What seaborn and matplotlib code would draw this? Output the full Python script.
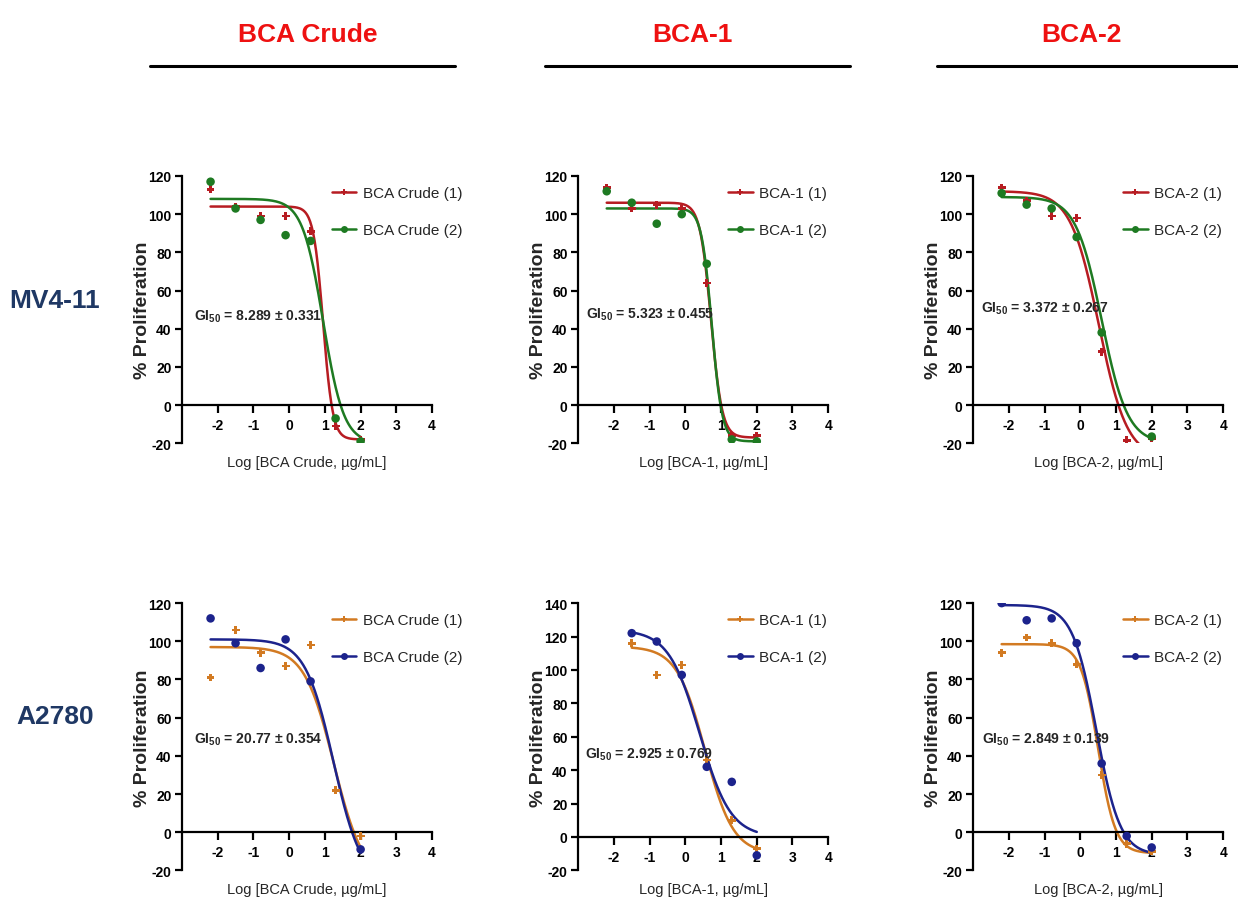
import numpy as np
import pandas as pd
import matplotlib
matplotlib.use("Agg")
import matplotlib.pyplot as plt
from matplotlib.lines import Line2D
import seaborn as sns

# --- data -------------------------------------------------------------------
log_conc = [-2.2, -1.5, -0.8, -0.1, 0.6, 1.3, 2.0]

compounds = ["BCA Crude", "BCA-1", "BCA-2"]
cell_lines = ["MV4-11", "A2780"]

gi50_text = {
    ("MV4-11", "BCA Crude"): "8.289 ± 0.331",
    ("MV4-11", "BCA-1"): "5.323 ± 0.455",
    ("MV4-11", "BCA-2"): "3.372 ± 0.267",
    ("A2780", "BCA Crude"): "20.77 ± 0.354",
    ("A2780", "BCA-1"): "2.925 ± 0.769",
    ("A2780", "BCA-2"): "2.849 ± 0.139",
}

# measured % proliferation, replicate (1) and (2); nan = no point shown
mv_crude_1 = [113, 104, 99, 99, 91, -11, -18]
mv_crude_2 = [117, 103, 97, 89, 86, -7, -19]
mv_bca1_1 = [114, 103, 105, 103, 64, -16, -16]
mv_bca1_2 = [112, 106, 95, 100, 74, -18, -19]
mv_bca2_1 = [114, 107, 99, 98, 28, -18.5, -17.5]
mv_bca2_2 = [111, 105, 103, 88, 38, np.nan, -16.5]
a2_crude_1 = [81, 106, 94, 87, 98, 22, -2]
a2_crude_2 = [112, 99, 86, 101, 79, np.nan, -9]
a2_bca1_1 = [np.nan, 116, 97, 103, 46, 10, -7]
a2_bca1_2 = [np.nan, 122, 117, 97, 42, 33, -11]
a2_bca2_1 = [94, 102, 99, 88, 30, -6, -10]
a2_bca2_2 = [120, 111, 112, 99, 36, -2, -8]

# fitted 4-parameter logistic curves: top, bottom, logGI50, hill slope
fit_params = {
    ("MV4-11", "BCA Crude", 1): (104, -18, 0.95, 3.2),
    ("MV4-11", "BCA Crude", 2): (108, -20, 0.95, 1.5),
    ("MV4-11", "BCA-1", 1): (106, -17, 0.72, 2.8),
    ("MV4-11", "BCA-1", 2): (103, -19, 0.74, 3.0),
    ("MV4-11", "BCA-2", 1): (112, -28, 0.52, 1.1),
    ("MV4-11", "BCA-2", 2): (109, -20, 0.60, 1.2),
    ("A2780", "BCA Crude", 1): (97, -25, 1.25, 1.05),
    ("A2780", "BCA Crude", 2): (101, -27, 1.24, 1.1),
    ("A2780", "BCA-1", 1): (114, -10, 0.55, 1.1),
    ("A2780", "BCA-1", 2): (124, 0, 0.40, 1.0),
    ("A2780", "BCA-2", 1): (98.5, -11, 0.50, 1.8),
    ("A2780", "BCA-2", 2): (119, -12, 0.45, 1.3),
}

points = {
    ("MV4-11", "BCA Crude"): (mv_crude_1, mv_crude_2),
    ("MV4-11", "BCA-1"): (mv_bca1_1, mv_bca1_2),
    ("MV4-11", "BCA-2"): (mv_bca2_1, mv_bca2_2),
    ("A2780", "BCA Crude"): (a2_crude_1, a2_crude_2),
    ("A2780", "BCA-1"): (a2_bca1_1, a2_bca1_2),
    ("A2780", "BCA-2"): (a2_bca2_1, a2_bca2_2),
}

colors = {
    "MV4-11": ("#b71c22", "#1e7a22"),
    "A2780": ("#d27a22", "#1c238c"),
}

# where the GI50 note sits in each panel (data coords)
gi50_pos = {
    ("MV4-11", "BCA Crude"): (-2.65, 47),
    ("MV4-11", "BCA-1"): (-2.78, 48),
    ("MV4-11", "BCA-2"): (-2.78, 51),
    ("A2780", "BCA Crude"): (-2.65, 49),
    ("A2780", "BCA-1"): (-2.8, 50),
    ("A2780", "BCA-2"): (-2.75, 49),
}


def four_pl(x, top, bottom, x50, hill):
    return bottom + (top - bottom) / (1 + 10 ** ((x - x50) * hill))


sns.set_style("ticks")
plt.rcParams["font.family"] = ["Liberation Sans", "DejaVu Sans"]
plt.rcParams["axes.unicode_minus"] = False
plt.rcParams["mathtext.fontset"] = "custom"
plt.rcParams["mathtext.rm"] = "Liberation Sans:bold"
plt.rcParams["mathtext.default"] = "rm"

fig = plt.figure(figsize=(12.38, 9.03), dpi=100)

lefts = [0.147, 0.467, 0.786]
bottoms = {"MV4-11": 0.508, "A2780": 0.035}
width, height = 0.202, 0.296

for row, cell in enumerate(cell_lines):
    for col, comp in enumerate(compounds):
        ax = fig.add_axes([lefts[col], bottoms[cell], width, height])
        ys = points[(cell, comp)]
        rows = []
        for rep, yv in enumerate(ys, start=1):
            for xv, v in zip(log_conc, yv):
                if not np.isnan(v):
                    rows.append({"x": xv, "y": v, "rep": f"{comp} ({rep})"})
        df = pd.DataFrame(rows)

        c1, c2 = colors[cell]
        palette = {f"{comp} (1)": c1, f"{comp} (2)": c2}
        markers = {f"{comp} (1)": "P", f"{comp} (2)": "o"}
        sizes = {f"{comp} (1)": 32, f"{comp} (2)": 38}

        curve_rows = []
        for rep in (1, 2):
            sub = df[df["rep"] == f"{comp} ({rep})"]
            xs = np.linspace(sub["x"].min(), sub["x"].max(), 200)
            top, bot, x50, hill = fit_params[(cell, comp, rep)]
            for xv in xs:
                curve_rows.append({"x": xv, "y": four_pl(xv, top, bot, x50, hill),
                                   "rep": f"{comp} ({rep})"})
        curves = pd.DataFrame(curve_rows)

        sns.lineplot(data=curves, x="x", y="y", hue="rep", palette=palette,
                     linewidth=1.8, legend=False, ax=ax)
        for rep in (1, 2):
            key = f"{comp} ({rep})"
            sns.scatterplot(data=df[df["rep"] == key], x="x", y="y", color=palette[key],
                            marker=markers[key], s=sizes[key], edgecolor="none",
                            legend=False, ax=ax, zorder=3)

        ymax = 140 if (cell == "A2780" and comp == "BCA-1") else 120
        ax.set_xlim(-3, 4)
        ax.set_ylim(-20, ymax)
        ax.set_xticks([-2, -1, 0, 1, 2, 3, 4])
        ax.set_yticks(np.arange(-20, ymax + 1, 20))
        ax.spines["top"].set_visible(False)
        ax.spines["right"].set_visible(False)
        ax.spines["bottom"].set_position(("data", 0))
        for sp in ("left", "bottom"):
            ax.spines[sp].set_linewidth(1.6)
            ax.spines[sp].set_color("black")
        ax.tick_params(axis="both", direction="out", width=1.6, length=5,
                       labelsize=10, colors="black", pad=2.5)
        ax.tick_params(axis="x", length=6, pad=3.5)
        for lab in ax.get_xticklabels() + ax.get_yticklabels():
            lab.set_fontweight("bold")

        ax.set_xlabel(f"Log [{comp}, µg/mL]", fontsize=10.5)
        ax.xaxis.set_label_coords(0.5, -0.042)
        ax.set_ylabel("% Proliferation", fontsize=14, fontweight="bold")
        ax.yaxis.set_label_coords(-0.125, 0.5)

        gx, gy = gi50_pos[(cell, comp)]
        ax.text(gx, gy, r"GI$_{50}$" + " = " + gi50_text[(cell, comp)],
                fontsize=10, fontweight="bold", va="center", ha="left")

        handles = [
            Line2D([], [], color=c1, lw=1.8, marker="P", markersize=5,
                   markeredgewidth=0, label=f"{comp} (1)"),
            Line2D([], [], color=c2, lw=1.8, marker="o", markersize=5,
                   markeredgewidth=0, label=f"{comp} (2)"),
        ]
        ax.legend(handles=handles, loc="upper left", bbox_to_anchor=(0.6, 0.962),
                  frameon=False, fontsize=11, handlelength=1.6, handletextpad=0.4,
                  labelspacing=1.5, borderaxespad=0, borderpad=0)

# column headers with rules underneath
header_x = [308 / 1238, 692 / 1238, 1081 / 1238]
rule_spans = [(150, 455), (545, 850), (937, 1238)]
for comp, hx, (x0, x1) in zip(compounds, header_x, rule_spans):
    fig.text(hx, 1 - 35 / 903, comp, color="#ee1111", fontsize=19,
             fontweight="bold", ha="center", va="center")
    fig.add_artist(Line2D([x0 / 1238, x1 / 1238], [1 - 67 / 903] * 2,
                          color="black", lw=2.2, transform=fig.transFigure))

# row labels
for cell, yc in zip(cell_lines, [301, 717]):
    fig.text(55 / 1238, 1 - yc / 903, cell, color="#1f3864", fontsize=19,
             fontweight="bold", ha="center", va="center")

fig.savefig("out.png", dpi=100, facecolor="white")
